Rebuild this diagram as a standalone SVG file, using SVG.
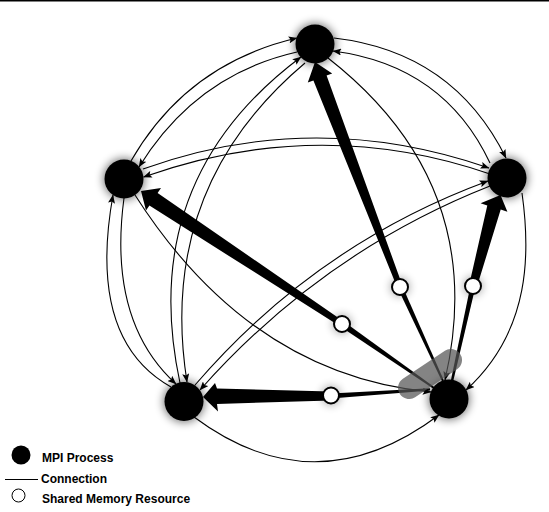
<svg xmlns="http://www.w3.org/2000/svg" width="549" height="512" viewBox="0 0 549 512">
<style>
.arc{fill:none;stroke:#000;stroke-width:1.1;marker-end:url(#ah)}
.thick{fill:#000;stroke:none}
.glow{fill:#000;opacity:.5;filter:url(#blur)}
.sglow{fill:#000;opacity:.3;filter:url(#blur)}
.proc{fill:#000}
.shm{fill:#fff;stroke:#000;stroke-width:2}
.lbl{font-family:"Liberation Sans",Arial,sans-serif;font-size:12px;font-weight:bold;fill:#000}
</style>
<defs>
<marker id="ah" viewBox="0 0 10 8" refX="9.5" refY="4" markerWidth="9" markerHeight="7" markerUnits="userSpaceOnUse" orient="auto">
<path d="M0,0 L10,4 L0,8 L2,4 z" fill="#000"/>
</marker>
<filter id="blur" x="-1" y="-1" width="3" height="3"><feGaussianBlur stdDeviation="4"/></filter>
</defs>
<rect x="0" y="0" width="549" height="1.5" fill="#000"/>

<g id="halos">
<circle class="glow" cx="315" cy="44" r="21"/>
<circle class="glow" cx="124" cy="179" r="21"/>
<circle class="glow" cx="507" cy="178" r="21"/>
<circle class="glow" cx="184" cy="401.5" r="21"/>
<circle class="glow" cx="449" cy="399" r="21"/>
<circle class="sglow" cx="400" cy="287" r="10"/>
<circle class="sglow" cx="473" cy="286" r="10"/>
<circle class="sglow" cx="342" cy="324" r="10"/>
<circle class="sglow" cx="331" cy="395.5" r="10"/>
</g>

<g id="connectors">
<path class="arc" d="M131,161 Q186.5,63.9 297,38"/>
<path class="arc" d="M297,52 Q195.8,74.9 139,167"/>
<path class="arc" d="M334,38 Q453.5,51.9 506,158"/>
<path class="arc" d="M490,163 Q444,65.4 333,51"/>
<path class="arc" d="M180,383 Q136.4,180.1 301,57"/>
<path class="arc" d="M305,63 Q156.5,188.3 187,382"/>
<path class="arc" d="M171,387 Q87,340 113,195"/>
<path class="arc" d="M124,198 Q107.5,321.5 176,384"/>
<path class="arc" d="M143,169 Q314.5,107.5 489,168"/>
<path class="arc" d="M490,174 Q319,115 143.5,177"/>
<path class="arc" d="M195,385 Q315.9,244.3 488,181"/>
<path class="arc" d="M490,186 Q322.4,252.1 200,390"/>
<path class="arc" d="M328,58 Q490.2,184.8 445,380"/>
<path class="arc" d="M135,195 Q250,375 431,392"/>
<path class="arc" d="M194,417 Q315.5,507.5 439,415"/>
<path class="arc" d="M522,193 C530,250 532,330 466,390"/>

<polygon class="thick" points="402.6,286 326.6,75.6 332.2,73.4 315,62 307.8,82.6 313.4,80.4 397.4,288"/>
<polygon class="thick" points="397.7,288 442.1,381.4 443.9,380.6 402.3,286"/>
<polygon class="thick" points="343.7,321.5 157.6,193 161,188 141,191 146,210.6 149.4,205.6 340.3,326.5"/>
<polygon class="thick" points="343.7,321.5 434.6,387.2 433.4,388.8 340.3,326.5"/>
<polygon class="thick" points="331,391.5 217,388.5 215,383 203,397 218,411.5 217,404 331,400.5"/>
<polygon class="thick" points="331,393.5 430,388.2 430,390.6 331,398.5"/>
<polygon class="thick" points="476.8,287.2 500.7,209.6 507.4,211.7 500.5,195 480.6,203.3 487.3,205.4 469.2,284.8"/>
<polygon class="thick" points="475.5,286.5 453.2,381.2 450.8,380.8 470.5,285.5"/>
</g>

<line id="highlight" x1="409" y1="388" x2="451" y2="360" stroke="#555" stroke-width="22" stroke-linecap="round" opacity="0.72"/>

<g id="shm1"><circle class="shm" cx="400" cy="287" r="8"/></g>
<g id="shm2"><circle class="shm" cx="473" cy="286" r="8"/></g>
<g id="shm3"><circle class="shm" cx="342" cy="324" r="8"/></g>
<g id="shm4"><circle class="shm" cx="331" cy="395.5" r="8"/></g>

<g id="p0"><circle class="proc" cx="315" cy="44" r="19.5"/></g>
<g id="p1"><circle class="proc" cx="124" cy="179" r="19.5"/></g>
<g id="p2"><circle class="proc" cx="507" cy="178" r="19.5"/></g>
<g id="p3"><circle class="proc" cx="184" cy="401.5" r="19.5"/></g>
<g id="p4"><circle class="proc" cx="449" cy="399" r="19.5"/></g>

<g id="legend">
<circle cx="21" cy="455" r="9.5" fill="#000"/>
<text class="lbl" x="42" y="462">MPI Process</text>
<line x1="5" y1="479.5" x2="38" y2="479.5" stroke="#000" stroke-width="1"/>
<text class="lbl" x="41" y="483">Connection</text>
<circle cx="18.5" cy="495.5" r="6.5" fill="#fff" stroke="#000" stroke-width="1"/>
<text class="lbl" x="42" y="503">Shared Memory Resource</text>
</g>
</svg>
